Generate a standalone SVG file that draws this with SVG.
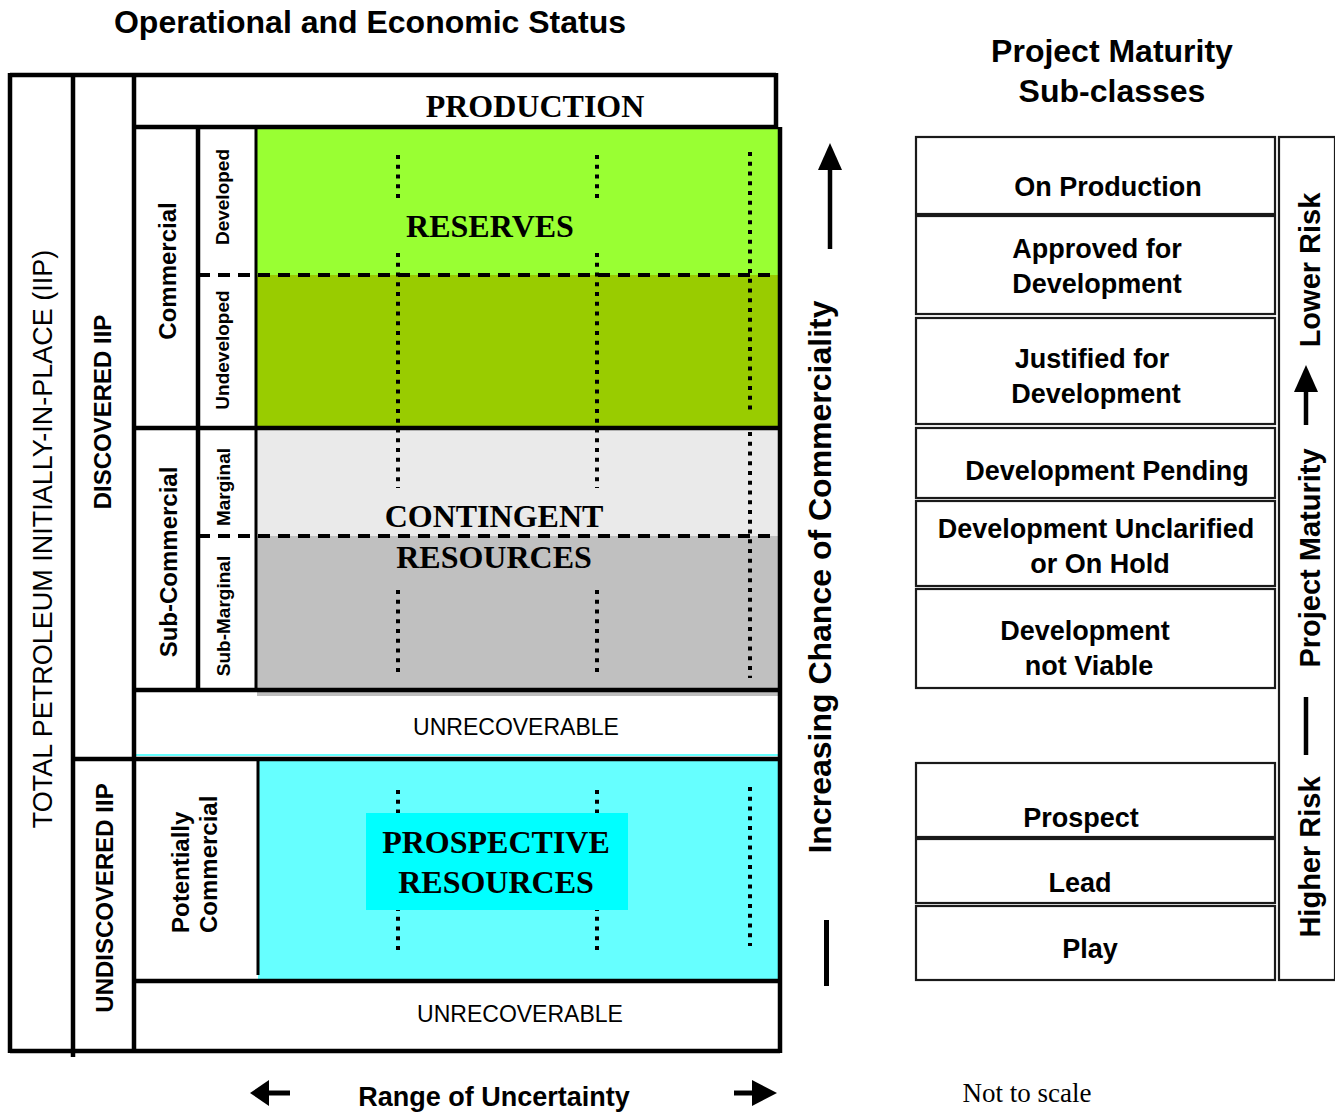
<svg xmlns="http://www.w3.org/2000/svg" width="1335" height="1114" viewBox="0 0 1335 1114">
<defs>
<style>
.sans{font-family:"Liberation Sans",Arial,sans-serif;}
.b{font-weight:bold;}
.serif{font-family:"Liberation Serif","Times New Roman",serif;}
.big{font-family:"Liberation Serif","Times New Roman",serif;font-weight:bold;font-size:32px;text-anchor:middle;}
.ln{stroke:#000;stroke-width:4.5;fill:none;}
.thin{stroke:#000;stroke-width:3;fill:none;}
.dash{stroke:#000;stroke-width:4;stroke-dasharray:12 8;fill:none;}
.dot{stroke:#000;stroke-width:4;stroke-dasharray:4 5.75;fill:none;}
.box{fill:#fff;stroke:#1a1a1a;stroke-width:2.2;}
.pm{font-family:"Liberation Sans",Arial,sans-serif;font-weight:bold;font-size:27px;text-anchor:middle;}
</style>
</defs>
<rect width="1335" height="1114" fill="#fff"/>

<text class="sans b" x="370" y="33" font-size="32" text-anchor="middle">Operational and Economic Status</text>
<text class="sans b" x="1112" y="62" font-size="32" text-anchor="middle">Project Maturity</text>
<text class="sans b" x="1112" y="102" font-size="32" text-anchor="middle">Sub-classes</text>

<g id="reserves">
<rect x="257" y="129" width="521" height="146" fill="#99FF33"/>
<rect x="257" y="275" width="521" height="153" fill="#99CC00"/>
</g>
<g id="contingent">
<rect x="257" y="428" width="521" height="108" fill="#EAEAEA"/>
<rect x="257" y="536" width="521" height="154" fill="#C0C0C0"/>
<rect x="257" y="690" width="521" height="6" fill="#BDBDBD"/>
</g>
<g id="prospective">
<rect x="258" y="760" width="520" height="220" fill="#66FFFF"/>
<line x1="134" y1="755" x2="778" y2="755" stroke="#66FFFF" stroke-width="2"/>
</g>

<g id="grid">
<line class="ln" x1="10" y1="75" x2="776" y2="75"/>
<line class="ln" x1="10" y1="73" x2="10" y2="1053"/>
<line class="ln" x1="73" y1="73" x2="73" y2="1057"/>
<line class="ln" x1="134" y1="73" x2="134" y2="1053"/>
<line class="ln" x1="776" y1="73" x2="776" y2="129"/>
<line class="ln" x1="134" y1="127" x2="778" y2="127"/>
<line class="ln" x1="780" y1="127" x2="780" y2="1053"/>
<line class="ln" x1="10" y1="1051" x2="780" y2="1051"/>
<line class="ln" x1="73" y1="759" x2="780" y2="759"/>
<line class="ln" x1="198" y1="127" x2="198" y2="690"/>
<line class="thin" x1="256" y1="127" x2="256" y2="690"/>
<line class="ln" x1="134" y1="428" x2="778" y2="428"/>
<line class="ln" x1="134" y1="690" x2="778" y2="690"/>
<line class="dash" x1="198" y1="275" x2="778" y2="275"/>
<line class="dash" x1="198" y1="536" x2="778" y2="536"/>
<line class="thin" x1="258" y1="760" x2="258" y2="975"/>
<line class="ln" x1="134" y1="981" x2="778" y2="981"/>
</g>

<g id="dotted">
<line class="dot" x1="398" y1="155" x2="398" y2="199"/>
<line class="dot" x1="398" y1="253" x2="398" y2="488"/>
<line class="dot" x1="398" y1="590" x2="398" y2="674"/>
<line class="dot" x1="398" y1="790" x2="398" y2="950"/>
<line class="dot" x1="597" y1="155" x2="597" y2="199"/>
<line class="dot" x1="597" y1="253" x2="597" y2="488"/>
<line class="dot" x1="597" y1="590" x2="597" y2="674"/>
<line class="dot" x1="597" y1="790" x2="597" y2="950"/>
<line class="dot" x1="750" y1="152" x2="750" y2="410"/>
<line class="dot" x1="750" y1="432" x2="750" y2="678"/>
<line class="dot" x1="750" y1="787" x2="750" y2="946"/>
</g>

<g id="labels">
<text class="big" x="535" y="117">PRODUCTION</text>
<text class="big" x="490" y="237">RESERVES</text>
<text class="big" x="494" y="527">CONTINGENT</text>
<text class="big" x="494" y="568">RESOURCES</text>
<rect x="366" y="813" width="262" height="97" fill="#00FFFF"/>
<text class="big" x="496" y="853">PROSPECTIVE</text>
<text class="big" x="496" y="893">RESOURCES</text>
<text class="sans" x="516" y="735" font-size="23" text-anchor="middle">UNRECOVERABLE</text>
<text class="sans" x="520" y="1022" font-size="23" text-anchor="middle">UNRECOVERABLE</text>

<text class="sans" transform="translate(52,539) rotate(-90)" font-size="27" text-anchor="middle">TOTAL PETROLEUM INITIALLY-IN-PLACE (IIP)</text>
<text class="sans b" transform="translate(111,412) rotate(-90)" font-size="24" text-anchor="middle">DISCOVERED IIP</text>
<text class="sans b" transform="translate(113,898) rotate(-90)" font-size="24" text-anchor="middle">UNDISCOVERED IIP</text>
<text class="sans b" transform="translate(176,271) rotate(-90)" font-size="24" text-anchor="middle">Commercial</text>
<text class="sans b" transform="translate(177,562) rotate(-90)" font-size="24" text-anchor="middle">Sub-Commercial</text>
<text class="sans b" transform="translate(229,197) rotate(-90)" font-size="19" text-anchor="middle">Developed</text>
<text class="sans b" transform="translate(229,350) rotate(-90)" font-size="19" text-anchor="middle">Undeveloped</text>
<text class="sans b" transform="translate(230,487) rotate(-90)" font-size="19" text-anchor="middle">Marginal</text>
<text class="sans b" transform="translate(230,616) rotate(-90)" font-size="19" text-anchor="middle">Sub-Marginal</text>
<text class="sans b" transform="translate(189,933) rotate(-90)" font-size="24">Potentially</text>
<text class="sans b" transform="translate(217,933) rotate(-90)" font-size="24">Commercial</text>

<text class="sans b" transform="translate(831,577) rotate(-90)" font-size="32" text-anchor="middle">Increasing Chance of Commerciality</text>
<text class="sans b" x="494" y="1106" font-size="27" text-anchor="middle">Range of Uncertainty</text>
<text class="serif" x="1027" y="1102" font-size="27" text-anchor="middle">Not to scale</text>
</g>

<g id="arrows">
<line x1="830" y1="249" x2="830" y2="166" stroke="#000" stroke-width="4.5"/>
<polygon points="830,143 818,170 842,170" fill="#000"/>
<line x1="826.5" y1="920" x2="826.5" y2="986" stroke="#000" stroke-width="5"/>
<line x1="266" y1="1093" x2="290" y2="1093" stroke="#000" stroke-width="5"/>
<polygon points="250,1093 269,1080 269,1106" fill="#000"/>
<line x1="734" y1="1093" x2="758" y2="1093" stroke="#000" stroke-width="5"/>
<polygon points="777,1093 752,1080 752,1106" fill="#000"/>
</g>

<g id="maturity">
<rect class="box" x="916" y="137" width="359" height="77"/>
<rect class="box" x="916" y="216" width="359" height="98"/>
<rect class="box" x="916" y="318" width="359" height="106"/>
<rect class="box" x="916" y="428" width="359" height="70"/>
<rect class="box" x="916" y="501" width="359" height="85"/>
<rect class="box" x="916" y="589" width="359" height="99"/>
<rect class="box" x="916" y="763" width="359" height="74"/>
<rect class="box" x="916" y="839" width="359" height="64"/>
<rect class="box" x="916" y="906" width="359" height="74"/>
<text class="pm" x="1108" y="196">On Production</text>
<text class="pm" x="1097" y="258">Approved for</text>
<text class="pm" x="1097" y="293">Development</text>
<text class="pm" x="1092" y="368">Justified for</text>
<text class="pm" x="1096" y="403">Development</text>
<text class="pm" x="1107" y="480">Development Pending</text>
<text class="pm" x="1096" y="538">Development Unclarified</text>
<text class="pm" x="1100" y="573">or On Hold</text>
<text class="pm" x="1085" y="640">Development</text>
<text class="pm" x="1089" y="675">not Viable</text>
<text class="pm" x="1081" y="827">Prospect</text>
<text class="pm" x="1080" y="892">Lead</text>
<text class="pm" x="1090" y="958">Play</text>
</g>

<g id="risk">
<rect class="box" x="1279" y="137" width="56" height="843"/>
<text class="sans b" transform="translate(1320,270) rotate(-90)" font-size="29" text-anchor="middle">Lower Risk</text>
<text class="sans b" transform="translate(1320,558) rotate(-90)" font-size="29" text-anchor="middle">Project Maturity</text>
<text class="sans b" transform="translate(1320,857) rotate(-90)" font-size="29" text-anchor="middle">Higher Risk</text>
<line x1="1306" y1="425" x2="1306" y2="388" stroke="#000" stroke-width="4.5"/>
<polygon points="1306,365 1294,392 1318,392" fill="#000"/>
<line x1="1306" y1="697" x2="1306" y2="755" stroke="#000" stroke-width="4.5"/>
</g>
</svg>
